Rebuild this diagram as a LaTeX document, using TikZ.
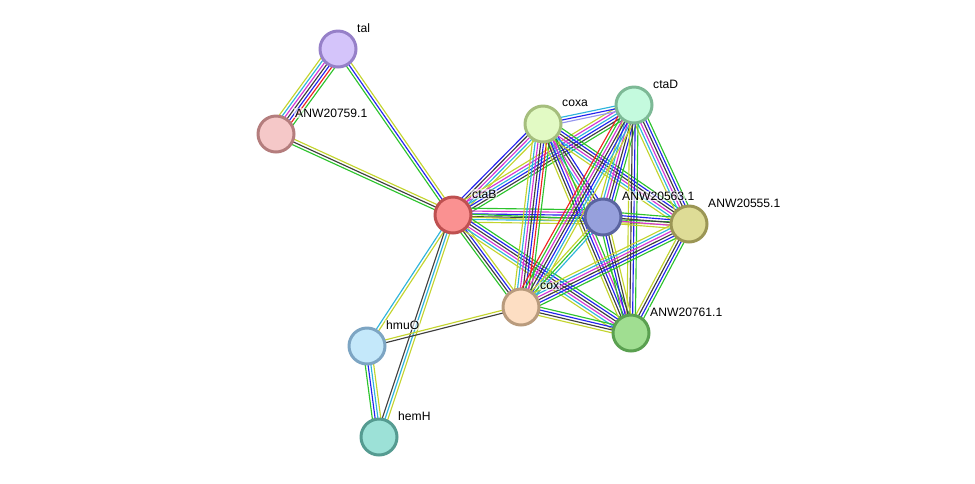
\documentclass[tikz,border=0pt]{standalone}
\usepackage{fontspec}
\setmainfont{Liberation Sans}
\usetikzlibrary{calc}

\pgfdeclarelayer{background}
\pgfsetlayers{background,main}

% evidence channel colours
\definecolor{ctxt}{RGB}{195,212,45}
\definecolor{ccoex}{RGB}{62,62,62}
\definecolor{cdb}{RGB}{45,180,220}
\definecolor{cexp}{RGB}{212,52,212}
\definecolor{ccooc}{RGB}{35,35,238}
\definecolor{cfus}{RGB}{238,35,35}
\definecolor{cnbh}{RGB}{45,195,45}
\definecolor{chom}{RGB}{150,150,238}

% protein colours (fill / border)
\definecolor{talF}{RGB}{212,196,250}   \definecolor{talB}{RGB}{150,128,200}
\definecolor{anwaF}{RGB}{245,200,200}  \definecolor{anwaB}{RGB}{180,125,125}
\definecolor{ctabF}{RGB}{250,145,145}  \definecolor{ctabB}{RGB}{190,80,80}
\definecolor{coxaF}{RGB}{226,250,196}  \definecolor{coxaB}{RGB}{165,190,125}
\definecolor{ctadF}{RGB}{196,250,222}  \definecolor{ctadB}{RGB}{125,185,150}
\definecolor{anwbF}{RGB}{150,160,220}  \definecolor{anwbB}{RGB}{90,100,160}
\definecolor{anwcF}{RGB}{222,220,150}  \definecolor{anwcB}{RGB}{155,150,85}
\definecolor{coxF}{RGB}{253,222,195}   \definecolor{coxB}{RGB}{185,155,125}
\definecolor{anwdF}{RGB}{160,222,145}  \definecolor{anwdB}{RGB}{90,160,80}
\definecolor{hmuoF}{RGB}{196,232,250}  \definecolor{hmuoB}{RGB}{125,165,195}
\definecolor{hemhF}{RGB}{156,225,215}  \definecolor{hemhB}{RGB}{85,155,145}

% bundle of parallel lines between two nodes
\newcommand{\link}[3]{%
  \foreach \col [count=\k] in {#3} {\xdef\nlines{\k}}%
  \foreach \col [count=\k] in {#3} {%
    \pgfmathsetmacro{\off}{(\k-(\nlines+1)/2)*1.6}%
    \draw[channel,\col] ($(#1)!\off pt!90:(#2)$) -- ($(#2)!\off pt!-90:(#1)$);
  }}

\begin{document}
\begin{tikzpicture}[channel/.style={line width=0.65pt},
  prot/.style={circle,draw=#1B,fill=#1F,line width=1.7pt,minimum size=0.72cm,inner sep=0pt},
  lbl/.style={anchor=west,font=\fontsize{6.9pt}{8pt}\selectfont,fill=white,fill opacity=0.6,text opacity=1,inner sep=0.5pt}]

  \useasboundingbox (0,0) rectangle (19.5,-9.66);

  \node[prot=tal]  (tal)  at (6.76,-0.98) {};
  \node[prot=anwa] (anwa) at (5.52,-2.68) {};
  \node[prot=ctab] (ctab) at (9.06,-4.30) {};
  \node[prot=coxa] (coxa) at (10.86,-2.48) {};
  \node[prot=ctad] (ctad) at (12.68,-2.10) {};
  \node[prot=anwb] (anwb) at (12.06,-4.34) {};
  \node[prot=anwc] (anwc) at (13.78,-4.48) {};
  \node[prot=cox]  (cox)  at (10.42,-6.14) {};
  \node[prot=anwd] (anwd) at (12.62,-6.66) {};
  \node[prot=hmuo] (hmuo) at (7.34,-6.92) {};
  \node[prot=hemh] (hemh) at (7.58,-8.74) {};

  \node[lbl] (tal-t)  at ($(tal)+(0.36,0.42)$)  {tal};
  \node[lbl] (anwa-t) at ($(anwa)+(0.36,0.42)$) {ANW20759.1};
  \node[lbl] (ctab-t) at ($(ctab)+(0.36,0.42)$) {ctaB};
  \node[lbl] (coxa-t) at ($(coxa)+(0.36,0.42)$) {coxa};
  \node[lbl] (ctad-t) at ($(ctad)+(0.36,0.42)$) {ctaD};
  \node[lbl] (anwb-t) at ($(anwb)+(0.36,0.42)$) {ANW20563.1};
  \node[lbl] (anwc-t) at ($(anwc)+(0.36,0.42)$) {ANW20555.1};
  \node[lbl] (cox-t)  at ($(cox)+(0.36,0.42)$)  {cox};
  \node[lbl] (anwd-t) at ($(anwd)+(0.36,0.42)$) {ANW20761.1};
  \node[lbl] (hmuo-t) at ($(hmuo)+(0.36,0.42)$) {hmuO};
  \node[lbl] (hemh-t) at ($(hemh)+(0.36,0.42)$) {hemH};

  \begin{pgfonlayer}{background}
    % outer part
    \link{tal}{anwa}{ctxt,cdb,cexp,ccoex,ccooc,cfus,cnbh}
    \link{tal}{ctab}{cnbh,ccooc,ctxt}
    \link{anwa}{ctab}{cnbh,ccoex,ctxt}
    \link{ctab}{hmuo}{cdb,ctxt}
    \link{ctab}{hemh}{ccoex,cdb,ctxt}
    \link{hmuo}{hemh}{cnbh,ccooc,cdb,ctxt}
    \link{hmuo}{cox}{ccoex,ctxt}
    % oxidase cluster
    \link{ctab}{coxa}{ctxt,cdb,cexp,ccoex,ccooc}
    \link{ctab}{ctad}{cnbh,ccoex,ccooc,cdb,cexp,ctxt}
    \link{ctab}{anwb}{ctxt,cdb,ccoex,ccooc,cexp,cnbh}
    \link{ctab}{anwc}{ctxt,cnbh}
    \link{ctab}{cox}{cnbh,ccoex,ccooc,ctxt}
    \link{ctab}{anwd}{ctxt,cdb,cexp,ccoex,ccooc,cnbh}
    \link{coxa}{ctad}{chom,ccooc,cdb}
    \link{coxa}{anwb}{ctxt,cdb,cexp,ccoex,ccooc}
    \link{coxa}{anwc}{ctxt,cdb,cexp,ccoex,ccooc,cnbh}
    \link{coxa}{cox}{ctxt,cdb,cexp,ccoex,ccooc,cfus,cnbh}
    \link{coxa}{anwd}{ctxt,ccoex,ccooc,cexp,cnbh}
    \link{ctad}{anwb}{ctxt,cdb,cexp,ccoex,ccooc,cnbh}
    \link{ctad}{anwc}{ctxt,cdb,cexp,ccoex,ccooc,cnbh}
    \link{ctad}{cox}{cfus,cnbh,cexp,ccoex,ccooc,cdb,ctxt}
    \link{ctad}{anwd}{ctxt,ccoex,ccooc,cnbh}
    \link{anwb}{anwc}{ctxt,cexp,ccoex,ccooc,cnbh}
    \link{anwb}{cox}{ctxt,cnbh,cdb}
    \link{anwb}{anwd}{cnbh,ccooc,ccoex,ctxt}
    \link{anwc}{cox}{ctxt,cdb,cexp,ccoex,ccooc,cnbh}
    \link{anwc}{anwd}{ctxt,ccoex,ccooc,cnbh}
    \link{cox}{anwd}{ctxt,ccoex,ccooc,cnbh}
  \end{pgfonlayer}

\end{tikzpicture}
\end{document}
